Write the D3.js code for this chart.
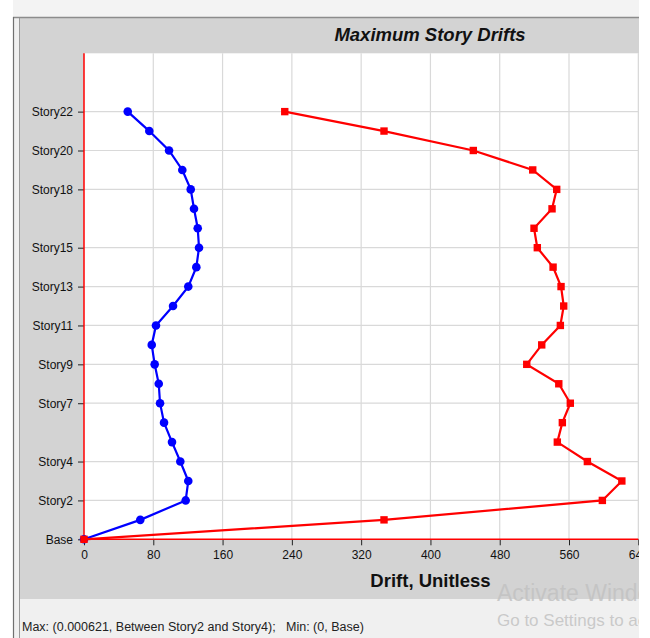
<!DOCTYPE html>
<html>
<head>
<meta charset="utf-8">
<script src="https://cdn.jsdelivr.net/npm/d3@7"></script>
<style>
  html, body { margin: 0; padding: 0; background: #ffffff; }
  svg { display: block; }
  text { font-family: "Liberation Sans", Arial, sans-serif; }
</style>
</head>
<body>
<div id="chart"></div>
<script>
// ---- data (drift values in units of 1e-6) ----
const stories = ["Base","Story1","Story2","Story3","Story4","Story5","Story6","Story7","Story8","Story9","Story10",
  "Story11","Story12","Story13","Story14","Story15","Story16","Story17","Story18","Story19","Story20","Story21","Story22"];
const driftBlue = [0, 65, 117.4, 120.4, 111.2, 101.6, 92.4, 87.8, 86.3, 81.6, 78.2,
  83.1, 102.8, 120.4, 129.7, 132.8, 131.3, 127.0, 123.2, 113.5, 98.2, 75.4, 50.5];
const driftRed = [0, 346.4, 598.5, 621, 581.2, 546.5, 552.3, 561.5, 548.2, 511.2, 528.5,
  550.0, 553.9, 550.8, 541.6, 523.4, 519.6, 540.4, 545.8, 518.1, 449.5, 346.4, 231.8];
const yTickIndex = [0, 2, 4, 7, 9, 11, 13, 15, 18, 20, 22];
const xTicks = [0, 80, 160, 240, 320, 400, 480, 560, 640];
const titleText = "Maximum Story Drifts";
const xTitleText = "Drift, Unitless";
const statusText = "Max: (0.000621, Between Story2 and Story4);   Min: (0, Base)";

const W = 650, H = 638, EDGE = 639;
const svg = d3.select("#chart").append("svg").attr("width", W).attr("height", H);

const defs = svg.append("defs");
defs.append("clipPath").attr("id", "screen").append("rect").attr("x", 0).attr("y", 0).attr("width", EDGE).attr("height", H);
defs.append("clipPath").attr("id", "plotclip").append("rect").attr("x", 78).attr("y", 48).attr("width", EDGE - 78).attr("height", 500);

const root = svg.append("g").attr("clip-path", "url(#screen)");

// window frame
root.append("rect").attr("x", 0).attr("y", 0).attr("width", W).attr("height", H).attr("fill", "#ffffff");
root.append("rect").attr("x", 13).attr("y", 0).attr("width", EDGE - 13).attr("height", 17).attr("fill", "#f3f3f3");
root.append("rect").attr("x", 14).attr("y", 17).attr("width", 6).attr("height", H - 17).attr("fill", "#f0f0f0");
root.append("rect").attr("x", 20).attr("y", 18).attr("width", EDGE - 20).attr("height", 581).attr("fill", "#d3d3d3");
root.append("rect").attr("x", 20).attr("y", 599).attr("width", EDGE - 20).attr("height", H - 599).attr("fill", "#f0f0f0");
root.append("line").attr("x1", 13).attr("x2", EDGE).attr("y1", 17.5).attr("y2", 17.5).attr("stroke", "#8c8c8c").attr("stroke-width", 1.5);
root.append("line").attr("x1", 13.5).attr("x2", 13.5).attr("y1", 17).attr("y2", H).attr("stroke", "#707070").attr("stroke-width", 1.2);
root.append("line").attr("x1", 19.5).attr("x2", 19.5).attr("y1", 18).attr("y2", H).attr("stroke", "#9a9a9a").attr("stroke-width", 1);

// scales
const x = d3.scaleLinear().domain([0, 640]).range([84, 638.3]);
const y = d3.scaleLinear().domain([0, 25]).range([539.3, 53.3]);

// plot area
root.append("rect").attr("x", x(0)).attr("y", y(25)).attr("width", x(640) - x(0)).attr("height", y(0) - y(25)).attr("fill", "#ffffff");

// grid
const grid = root.append("g");
grid.selectAll("line.vx").data(xTicks.filter(d => d > 0)).join("line")
  .attr("x1", d => x(d)).attr("x2", d => x(d)).attr("y1", y(25)).attr("y2", y(0))
  .attr("stroke", "#d9d9d9").attr("stroke-width", 1.2);
grid.selectAll("line.hy").data(yTickIndex.filter(d => d > 0)).join("line")
  .attr("x1", x(0)).attr("x2", x(640)).attr("y1", d => y(d)).attr("y2", d => y(d))
  .attr("stroke", "#d9d9d9").attr("stroke-width", 1.2);

// axes
const yAxis = d3.axisLeft(y).tickValues(yTickIndex).tickFormat(d => stories[d]).tickSize(6).tickPadding(5);
const gy = root.append("g").attr("transform", `translate(${x(0)},0)`).call(yAxis);
gy.select(".domain").remove();
gy.selectAll("text").attr("font-size", 12).attr("fill", "#111").attr("font-family", "'Liberation Sans', Arial, sans-serif");
gy.selectAll("line").attr("stroke", "#222");

const xAxis = d3.axisBottom(x).tickValues(xTicks).tickFormat(d3.format("d")).tickSize(6).tickPadding(5);
const gx = root.append("g").attr("transform", `translate(0,${y(0)})`).call(xAxis);
gx.select(".domain").remove();
gx.selectAll("text").attr("font-size", 12).attr("fill", "#111").attr("font-family", "'Liberation Sans', Arial, sans-serif");
gx.selectAll("line").attr("stroke", "#222");

// red axis lines
root.append("line").attr("x1", x(0)).attr("x2", x(0)).attr("y1", y(25)).attr("y2", y(0))
  .attr("stroke", "#ff0000").attr("stroke-width", 1.5);
root.append("line").attr("x1", x(0)).attr("x2", x(640)).attr("y1", y(0)).attr("y2", y(0))
  .attr("stroke", "#ff0000").attr("stroke-width", 1.5);

// series
const plot = root.append("g").attr("clip-path", "url(#plotclip)");
const blueData = driftBlue.map((v, i) => [v, i]);
const redData = driftRed.map((v, i) => [v, i]);
const line = d3.line().x(d => x(d[0])).y(d => y(d[1]));

plot.append("path").datum(blueData).attr("d", line).attr("fill", "none").attr("stroke", "#0000ff").attr("stroke-width", 2.2);
plot.selectAll("circle.b").data(blueData).join("circle")
  .attr("cx", d => x(d[0])).attr("cy", d => y(d[1])).attr("r", 4.3).attr("fill", "#0000ff");

plot.append("path").datum(redData).attr("d", line).attr("fill", "none").attr("stroke", "#ff0000").attr("stroke-width", 2.2);
plot.selectAll("rect.r").data(redData).join("rect")
  .attr("x", d => x(d[0]) - 3.7).attr("y", d => y(d[1]) - 3.7).attr("width", 7.4).attr("height", 7.4).attr("fill", "#ff0000");

// titles
root.append("text").attr("x", 430).attr("y", 41).attr("text-anchor", "middle")
  .attr("font-size", 18.5).attr("font-weight", "bold").attr("font-style", "italic").attr("fill", "#111").text(titleText);
root.append("text").attr("x", 430.5).attr("y", 587).attr("text-anchor", "middle")
  .attr("font-size", 18.5).attr("font-weight", "bold").attr("fill", "#111").text(xTitleText);
root.append("text").attr("x", 22).attr("y", 631).style("white-space", "pre")
  .attr("font-size", 12.5).attr("fill", "#222").text(statusText);

// OS watermark overlay (cut off by the screenshot edge, as in the reference)
root.append("text").attr("x", 497).attr("y", 601).attr("font-size", 23)
  .attr("font-family", "'Open Sans', 'Noto Sans', sans-serif").attr("fill", "#c2c2c2").attr("fill-opacity", 0.85).text("Activate Windows");
root.append("text").attr("x", 497).attr("y", 626).attr("font-size", 17)
  .attr("font-family", "'Open Sans', 'Noto Sans', sans-serif").attr("fill", "#c2c2c2").attr("fill-opacity", 0.85).text("Go to Settings to activate Windows.");
</script>
</body>
</html>
